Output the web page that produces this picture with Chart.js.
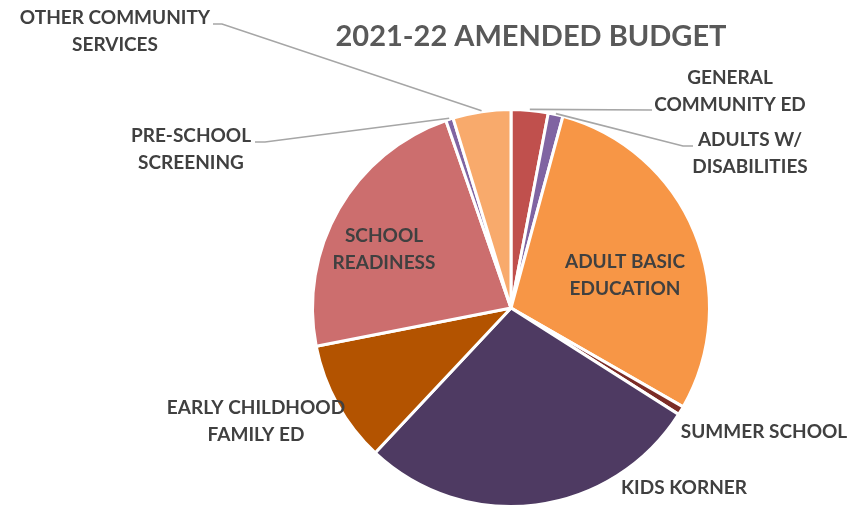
<!DOCTYPE html>
<html>
<head>
<meta charset="utf-8">
<script src="https://cdn.jsdelivr.net/npm/chart.js@4.4.1/dist/chart.umd.min.js"></script>
<style>
  html, body { margin: 0; padding: 0; background: #fff; overflow: hidden; }
  #wrap { position: relative; width: 862px; height: 512px; }
</style>
</head>
<body>
<div id="wrap"><canvas id="budget-chart"></canvas></div>
<script>
// 予算の内訳（%）
const categories = [
  ['GENERAL', 'COMMUNITY ED'],
  ['ADULTS W/', 'DISABILITIES'],
  ['ADULT BASIC', 'EDUCATION'],
  ['SUMMER SCHOOL'],
  ['KIDS KORNER'],
  ['EARLY CHILDHOOD', 'FAMILY ED'],
  ['SCHOOL', 'READINESS'],
  ['PRE-SCHOOL', 'SCREENING'],
  ['OTHER COMMUNITY', 'SERVICES']
];
const budgetShare = [3.0, 1.2, 29.0, 0.7, 27.9, 9.9, 22.7, 0.6, 4.7];
const sliceColors = ['#C0504D', '#8064A2', '#F79646', '#7B2C26', '#4E3A62',
                     '#B35300', '#CC6E6E', '#8064A2', '#F8AA6C'];
const titleText = '2021-22 AMENDED BUDGET';

// ラベルの位置（テキスト中心）と引き出し線の折れ点
const labelSpots = [
  {x: 730, y: 78, knee: [[652, 110]]},
  {x: 750, y: 140, knee: [[683, 146], [693, 146]]},
  {x: 625, y: 262},
  {x: 764, y: 432},
  {x: 684, y: 488},
  {x: 256, y: 408},
  {x: 384, y: 236},
  {x: 191, y: 136, knee: [[265, 142], [255, 142]]},
  {x: 115, y: 18, knee: [[222, 24], [213, 24]]}
];

const labelPlugin = {
  id: 'outLabels',
  afterDraw(chart) {
    const ctx = chart.ctx;
    const arcs = chart.getDatasetMeta(0).data;
    ctx.save();

    // タイトル
    ctx.fillStyle = '#595959';
    ctx.font = 'bold 29px Lato';
    ctx.textAlign = 'center';
    ctx.textBaseline = 'middle';
    ctx.fillText(titleText, 531, 37);

    // 引き出し線
    ctx.strokeStyle = '#A6A6A6';
    ctx.lineWidth = 1.6;
    arcs.forEach((arc, i) => {
      const spot = labelSpots[i];
      if (!spot.knee) return;
      const mid = (arc.startAngle + arc.endAngle) / 2;
      const r = arc.outerRadius + 1;
      ctx.beginPath();
      ctx.moveTo(arc.x + Math.cos(mid) * r, arc.y + Math.sin(mid) * r);
      spot.knee.forEach(p => ctx.lineTo(p[0], p[1]));
      ctx.stroke();
    });

    // ラベル
    ctx.fillStyle = '#404040';
    ctx.font = 'bold 19px Lato';
    categories.forEach((lines, i) => {
      const spot = labelSpots[i];
      lines.forEach((t, k) => {
        ctx.fillText(t, spot.x, spot.y + k * 27);
      });
    });
    ctx.restore();
  }
};

const ctx = document.getElementById('budget-chart').getContext('2d');
const budgetChart = new Chart(ctx, {
  type: 'pie',
  data: {
    labels: categories,
    datasets: [{
      data: budgetShare,
      backgroundColor: sliceColors,
      borderColor: '#ffffff',
      borderWidth: 3
    }]
  },
  options: {
    responsive: true,
    maintainAspectRatio: false,
    animation: false,
    layout: {
      padding: {top: 108, bottom: 4, left: 311, right: 151}
    },
    plugins: {
      legend: {display: false},
      tooltip: {enabled: false}
    }
  },
  plugins: [labelPlugin]
});
</script>
</body>
</html>
